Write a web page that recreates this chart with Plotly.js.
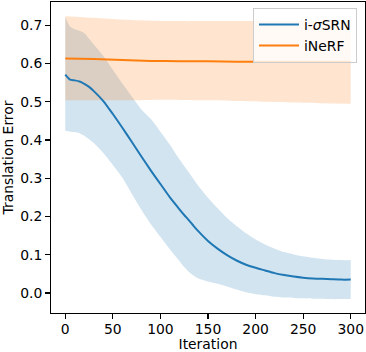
<!DOCTYPE html>
<html>
<head>
<meta charset="utf-8">
<script src="https://cdn.plot.ly/plotly-3.0.1.min.js"></script>
<style>html,body{margin:0;padding:0;background:#fff;}#chart{width:366px;height:352px;}</style>
</head>
<body>
<div id="chart"></div>
<script>
// i-σSRN (blue)
const srnIter  = [0,5,10,15,20,25,30,40,50,60,70,80,90,100,110,120,125,130,135,140,150,160,170,180,190,200,210,220,230,240,250,260,270,280,290,300];
const srnMean  = [0.571,0.558,0.556,0.553,0.547,0.539,0.528,0.502,0.468,0.432,0.395,0.357,0.320,0.285,0.250,0.219,0.204,0.190,0.175,0.161,0.136,0.116,0.099,0.085,0.074,0.066,0.059,0.052,0.047,0.043,0.040,0.038,0.037,0.036,0.035,0.035];
const srnUpper = [0.722,0.697,0.690,0.686,0.680,0.665,0.650,0.620,0.584,0.548,0.514,0.480,0.455,0.422,0.388,0.350,0.332,0.315,0.297,0.280,0.249,0.222,0.196,0.175,0.156,0.140,0.127,0.116,0.107,0.101,0.096,0.092,0.089,0.087,0.086,0.086];
const srnLower = [0.424,0.422,0.421,0.418,0.411,0.402,0.392,0.366,0.335,0.302,0.259,0.218,0.180,0.147,0.114,0.084,0.068,0.055,0.045,0.038,0.030,0.024,0.017,0.009,0.002,-0.003,-0.006,-0.010,-0.012,-0.013,-0.014,-0.015,-0.015,-0.016,-0.016,-0.016];

// iNeRF (orange)
const nerfIter  = [0,30,60,90,120,150,180,210,240,270,300];
const nerfMean  = [0.613,0.612,0.609,0.607,0.606,0.606,0.605,0.605,0.605,0.605,0.605];
const nerfUpper = [0.724,0.720,0.715,0.712,0.711,0.711,0.711,0.711,0.711,0.711,0.711];
const nerfLower = [0.504,0.504,0.504,0.505,0.505,0.504,0.502,0.500,0.498,0.496,0.495];

const xTicks = [0,50,100,150,200,250,300];
const yTicks = [0.0,0.1,0.2,0.3,0.4,0.5,0.6,0.7];

const labels = {srn:'i-<i>σ</i>SRN', nerf:'iNeRF', x:'Iteration', y:'Translation Error'};

const BLUE = '#1f77b4', ORANGE = '#ff7f0e';
const FONT = 'DejaVu Sans, sans-serif';
const SM = {shape:'spline', smoothing:0.6};

const traces = [
  {x:srnIter, y:srnLower, mode:'lines', line:Object.assign({width:0, color:BLUE}, SM), showlegend:false, hoverinfo:'skip'},
  {x:srnIter, y:srnUpper, mode:'lines', line:Object.assign({width:0, color:BLUE}, SM), fill:'tonexty', fillcolor:'rgba(31,119,180,0.2)', showlegend:false, hoverinfo:'skip'},
  {x:nerfIter, y:nerfLower, mode:'lines', line:Object.assign({width:0, color:ORANGE}, SM), showlegend:false, hoverinfo:'skip'},
  {x:nerfIter, y:nerfUpper, mode:'lines', line:Object.assign({width:0, color:ORANGE}, SM), fill:'tonexty', fillcolor:'rgba(255,127,14,0.2)', showlegend:false, hoverinfo:'skip'},
  {x:srnIter, y:srnMean, mode:'lines', name:labels.srn, legendgroup:'a', line:Object.assign({color:BLUE, width:2}, SM)},
  {x:nerfIter, y:nerfMean, mode:'lines', name:labels.nerf, legendgroup:'b', line:Object.assign({color:ORANGE, width:2}, SM)}
];

const axisCommon = {
  showgrid:false, zeroline:false, showline:true, linecolor:'#000', linewidth:1.1, mirror:true,
  ticks:'outside', ticklen:4.9, tickwidth:1.1, tickcolor:'#000',
  tickfont:{family:FONT, size:13.9, color:'#000'}
};

const layout = {
  width:366, height:352,
  margin:{l:51, r:1, t:2, b:39},
  paper_bgcolor:'#fff', plot_bgcolor:'#fff',
  font:{family:FONT, size:13.9, color:'#000'},
  xaxis:Object.assign({}, axisCommon, {
    range:[-15,315], tickmode:'array', tickvals:xTicks, ticktext:xTicks.map(String), ticklabelstandoff:-2,
    title:{text:labels.x, font:{family:FONT, size:13.9, color:'#000'}}, automargin:false
  }),
  yaxis:Object.assign({}, axisCommon, {
    range:[-0.0523,0.761], tickmode:'array', tickvals:yTicks, ticktext:yTicks.map(v=>v.toFixed(1)),
    title:{text:labels.y, font:{family:FONT, size:13.9, color:'#000'}, standoff:6}, automargin:false
  }),
  legend:{x:0.9745, xanchor:'right', y:0.981, yanchor:'top', bgcolor:'rgba(255,255,255,0.8)', bordercolor:'#cccccc', borderwidth:1,
          font:{family:FONT, size:13.9, color:'#000'}, traceorder:'normal', tracegroupgap:4, itemwidth:40},
  showlegend:true
};

Plotly.newPlot('chart', traces, layout, {staticPlot:true, displayModeBar:false});
</script>
</body>
</html>
